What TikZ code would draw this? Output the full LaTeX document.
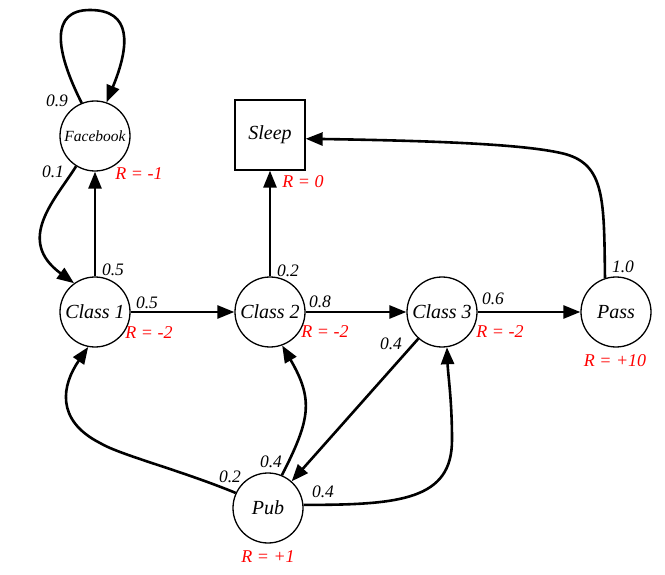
\documentclass[tikz,border=0pt]{standalone}
\usepackage{fontspec}
\setmainfont{Liberation Serif}
\usetikzlibrary{arrows.meta}
\begin{document}
\begin{tikzpicture}[x=1pt,y=-1pt,
  st/.style={circle, draw, line width=1.3pt, minimum size=70pt, inner sep=0pt, font=\fontsize{20}{24}\selectfont\itshape},
  bx/.style={rectangle, draw, line width=1.3pt, minimum size=70pt, inner sep=0pt, font=\fontsize{20}{24}\selectfont\itshape},
  ed/.style={line width=2.6pt, -{Triangle[length=17pt,width=13pt]}},
  pl/.style={font=\fontsize{17.5}{20}\selectfont\itshape, inner sep=0pt},
  rw/.style={pl, font=\fontsize{18}{21}\selectfont\itshape, text=red}]
\useasboundingbox (0,0) rectangle (665,575);
% states
\node[st, font=\fontsize{15.5}{18}\selectfont\itshape] (fb) at (95,136) {Facebook};
\node[bx] (sl) at (270,135) {Sleep};
\node[st] (c1) at (95,312) {Class 1};
\node[st] (c2) at (270,312) {Class 2};
\node[st] (c3) at (442,312) {Class 3};
\node[st] (ps) at (616,312) {Pass};
\node[st] (pb) at (268,508) {Pub};
% edges
\draw[ed] (fb.112) .. controls (55,50) and (50,10) .. (90,10) .. controls (132,10) and (130,45) .. (fb.71);
\draw[ed] (fb.238) .. controls (55,200) and (15,240) .. (c1.126);
\draw[ed] (c1) -- (fb);
\draw[ed] (c1) -- (c2);
\draw[ed] (c2) -- (sl);
\draw[ed] (c2) -- (c3);
\draw[ed] (c3) -- (ps);
\draw[ed] (ps.108) .. controls (604,200) and (605,165) .. (565,154) .. controls (530,145) and (450,141) .. (sl.-6);
\draw[ed] (c3) -- (pb);
\draw[ed] (pb.155) .. controls (180,470) and (120,455) .. (100,443) .. controls (55,420) and (62,385) .. (c1.259);
\draw[ed] (pb.67) .. controls (310,420) and (314,400) .. (c2.-70);
\draw[ed] (pb.5) .. controls (400,505) and (452,500) .. (452,440) .. controls (452,400) and (448,375) .. (c3.-82);
% probabilities
\node[pl] (p1) at (57,101) {0.9};
\node[pl] (p2) at (53,172) {0.1};
\node[pl] (p3) at (113,270) {0.5};
\node[pl] (p4) at (147,303) {0.5};
\node[pl] (p5) at (288,271) {0.2};
\node[pl] (p6) at (320,302) {0.8};
\node[pl] (p7) at (493,299) {0.6};
\node[pl] (p8) at (391,344) {0.4};
\node[pl] (p9) at (623,267) {1.0};
\node[pl] (p10) at (271,462) {0.4};
\node[pl] (p11) at (230,477) {0.2};
\node[pl] (p12) at (323,492) {0.4};
% rewards
\node[rw] (r1) at (139,174) {R = -1};
\node[rw] (r2) at (303,182) {R = 0};
\node[rw] (r3) at (149,333) {R = -2};
\node[rw] (r4) at (325,332) {R = -2};
\node[rw] (r5) at (500,332) {R = -2};
\node[rw] (r6) at (615,361) {R = +10};
\node[rw] (r7) at (268,557) {R = +1};
\end{tikzpicture}
\end{document}
